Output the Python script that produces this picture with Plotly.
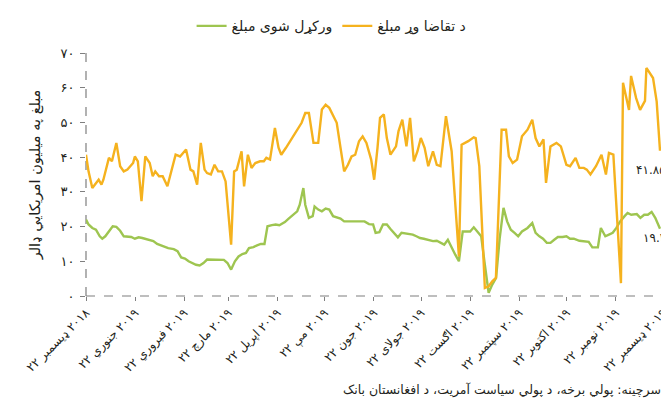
import plotly.graph_objects as go
import pandas as pd

START = "2018-12-22"

# Demand (orange): day offset from 22 Dec 2018, value in million USD
demand_days = [0, 1.6, 4.0, 6.3, 8.0, 9.8, 11.0, 14.5, 16.4, 19.2, 21.6, 23.9, 26.2, 29.8, 30.9,
               32.8, 35.1, 37.5, 40.3, 42.2, 43.8, 46.2, 48.5, 51.5, 53.9, 56.7, 59.5, 63.3, 66.1,
               67.9, 70.3, 72.6, 75.0, 76.6, 79.0, 81.3, 83.6, 86.0, 88.3, 91.8, 93.7, 95.4, 98.4,
               100.0, 102.4, 104.7, 107.1, 110.1, 112.5, 114.1, 116.4, 119.5, 121.8, 123.5, 126.5,
               129.8, 133.6, 136.4, 138.7, 141.0, 143.9, 146.9, 149.2, 151.6, 153.9, 156.3, 158.6,
               161.0, 163.3, 165.7, 168.0, 170.3, 172.7, 175.0, 177.4, 180.4, 182.3, 184.4, 186.0,
               188.4, 190.3, 192.6, 194.9, 196.1, 197.7, 200.1, 202.7, 205.0, 207.4, 209.7, 211.8,
               214.2, 216.5, 219.5, 221.9, 224.2, 227.7, 231.3, 235.9, 237.6, 241.8, 245.3, 246.5,
               248.8, 252.3, 254.7, 257.0, 259.3, 262.9, 265.7, 267.5, 269.9, 272.7, 275.8, 279.3,
               282.3, 284.4, 286.8, 289.4, 291.0, 293.8, 297.6, 300.4, 303.9, 306.2, 309.7, 312.1,
               314.9, 316.8, 319.1, 322.6, 326.1, 328.9, 330.8, 333.6, 338.4, 339.7, 343.5, 344.8,
               348.0, 350.5, 353.6, 354.5, 358.7, 361.0, 363.1]
demand_vals = [40.7, 35.9, 31.1, 32.6, 33.5, 32.1, 33.5, 39.8, 38.8, 44.1, 37.4, 35.9, 36.4, 38.3, 40.2,
               38.8, 27.3, 40.2, 38.3, 34.5, 35.9, 34.5, 34.5, 31.6, 35.9, 40.7, 40.2, 42.2, 36.4,
               35.9, 32.1, 44.1, 36.4, 35.4, 35.0, 37.8, 35.9, 35.9, 33.0, 14.8, 35.9, 36.4, 41.7,
               31.6, 40.7, 36.9, 38.3, 38.8, 38.8, 39.8, 39.3, 48.4, 42.7, 40.7, 42.7,
               45.1, 47.5, 49.9, 52.7, 52.7, 44.1, 44.1, 53.7, 55.1, 54.2, 51.8, 49.9,
               42.7, 35.9, 37.8, 40.2, 40.7, 44.6, 46.0, 44.1, 39.3, 33.5, 42.7, 51.3,
               52.3, 45.5, 40.7, 42.2, 43.1, 47.5, 50.8, 43.1, 51.3, 38.8, 41.7, 45.5,
               42.7, 37.4, 41.7, 37.8, 37.4, 51.8, 41.7, 11.4, 43.6, 44.6, 45.7, 45.5,
               37.4, 2.3, 2.8, 4.2, 5.2, 47.9, 47.9, 40.2, 38.3, 39.3, 46.0, 47.9,
               50.8, 45.5, 43.1, 45.1, 32.6, 43.1, 44.1, 43.1, 37.8, 37.4, 39.8, 36.9,
               36.9, 36.4, 35.0, 37.4, 40.7, 35.0, 41.2, 40.7, 3.7, 61.4, 53.6, 63.4,
               57.0, 53.6, 56.2, 65.7, 62.8, 56.0, 41.85]

# Sold (green)
sold_days = [0, 1.6, 4.0, 6.3, 8.7, 10.3, 12.2, 14.5, 16.9, 19.2, 21.6, 23.9, 26.2, 28.6, 30.9, 33.3,
             35.6, 39.1, 42.6, 45.0, 48.5, 52.0, 55.5, 57.9, 60.2, 62.6, 64.9, 67.2, 69.6, 71.9,
             74.3, 76.6, 80.1, 83.6, 87.2, 89.5, 91.8, 94.2, 96.5, 98.9, 101.2, 103.1, 105.9,
             108.2, 110.6, 112.9, 114.8, 117.6, 120.0, 122.3, 125.8, 128.2, 130.5, 133.6, 135.2,
             137.5, 138.7, 141.0, 143.4, 144.6, 146.9, 149.2, 151.6, 153.9, 156.3, 158.6, 161.0,
             163.3, 165.7, 168.0, 170.3, 172.7, 176.2, 179.0, 181.6, 183.2, 185.6, 187.9, 190.3,
             192.6, 194.9, 197.3, 199.6, 202.0, 204.3, 206.7, 209.0, 211.3, 213.7, 216.0, 219.5,
             221.9, 224.2, 226.6, 228.9, 231.3, 233.6, 235.9, 238.3, 240.6, 243.0, 245.3, 247.7,
             250.0, 252.3, 254.7, 257.0, 259.4, 261.7, 264.1, 266.4, 268.7, 271.1, 273.4, 275.8,
             279.3, 282.3, 284.4, 286.8, 289.1, 291.5, 293.8, 296.2, 298.5, 301.5, 303.9, 306.2,
             308.6, 312.1, 315.6, 318.0, 320.3, 323.8, 325.7, 328.5, 330.8, 333.2, 335.5, 337.9,
             340.7, 342.6, 344.9, 348.4, 350.7, 353.1, 355.4, 357.8, 360.1, 363.1]
sold_vals = [22.0, 20.6, 19.6, 19.1, 17.2, 16.5, 17.2, 18.6, 20.1, 19.9, 18.8, 17.2, 17.0, 17.0, 16.5, 16.9,
             16.7, 16.2, 15.8, 15.0, 14.3, 13.8, 13.5, 12.9, 11.1, 10.8, 10.0, 9.5, 9.0, 8.8,
             9.5, 10.5, 10.5, 10.5, 10.4, 9.5, 7.6, 10.0, 11.4, 12.1, 12.4, 13.8, 14.1,
             14.6, 15.0, 15.0, 20.1, 20.4, 20.6, 20.4, 21.3, 22.3, 23.2, 24.4, 26.3,
             31.1, 26.3, 22.5, 23.0, 25.8, 24.9, 24.4, 25.2, 24.9, 23.0, 22.7, 22.3,
             21.5, 21.5, 21.7, 21.5, 21.6, 21.5, 20.7, 20.6, 18.2, 18.4, 20.6, 20.6,
             19.3, 18.2, 16.9, 18.2, 18.1, 17.9, 17.7, 17.2, 16.7, 16.5, 16.2, 15.8,
             15.9, 15.3, 14.8, 16.2, 13.8, 11.9, 10.0, 18.6, 18.6, 18.6, 19.8, 18.6,
             17.2, 9.0, 0.9, 3.3, 5.2, 16.7, 25.4, 21.5, 19.1, 18.2, 17.2, 18.6,
             19.6, 21.0, 18.2, 17.2, 16.5, 15.3, 15.3, 16.2, 17.0, 17.0, 17.2, 16.5,
             16.5, 15.9, 15.8, 15.6, 14.0, 14.0, 19.6, 17.2, 17.7, 18.2, 19.6, 21.5,
             23.0, 23.9, 23.4, 23.6, 22.5, 23.4, 23.4, 24.2, 22.5, 19.4]

tick_dates = ["2018-12-22", "2019-01-22", "2019-02-22", "2019-03-22", "2019-04-22", "2019-05-22",
              "2019-06-22", "2019-07-22", "2019-08-22", "2019-09-22", "2019-10-22", "2019-11-22",
              "2019-12-22"]
tick_months = ["ډیسمبر", "جنوري", "فبروري", "مارچ", "اپریل", "مې", "جون", "جولای", "اګست",
               "سپتمبر", "اکتوبر", "نومبر", "ډیسمبر"]
tick_years = ["۲۰۱۸"] + ["۲۰۱۹"] * 12
y_ticks = [0, 10, 20, 30, 40, 50, 60, 70]
y_labels = ["۰", "۱۰", "۲۰", "۳۰", "۴۰", "۵۰", "۶۰", "۷۰"]

name_demand = "د تقاضا وړ مبلغ"
name_sold = "ورکړل شوی مبلغ"
y_title = "مبلغ په میلیون امریکایي ډالر"
source = "سرچینه: پولي برخه، د پولي سیاست آمریت، د افغانستان بانک"
end_demand_label = "۴۱.۸۵"
end_sold_label = "۱۹.۴"

LRM = "\u200e"

start = pd.Timestamp(START)
demand_x = start + pd.to_timedelta(demand_days, unit="D")
sold_x = start + pd.to_timedelta(sold_days, unit="D")

ORANGE = "#F5B21E"
GREEN = "#9EC550"
FONT = "DejaVu Sans"
AXIS = "#7f7f7f"

fig = go.Figure()
fig.add_trace(go.Scatter(x=sold_x, y=sold_vals, mode="lines", name=name_sold,
                         line=dict(color=GREEN, width=2.4)))
fig.add_trace(go.Scatter(x=demand_x, y=demand_vals, mode="lines", name=name_demand,
                         line=dict(color=ORANGE, width=2.4)))

# day, month and year laid out left to right as in the reference
tick_text = [f"۲۲{LRM} {m}{LRM} {y}" for m, y in zip(tick_months, tick_years)]

fig.update_layout(
    width=669, height=415,
    margin=dict(l=78, r=14, t=45, b=127, autoexpand=False),
    paper_bgcolor="white", plot_bgcolor="white",
    font=dict(family=FONT, size=12, color="#231F20"),
    showlegend=True,
    legend=dict(orientation="h", x=0.183, xanchor="left", y=1.11, yanchor="middle",
                font=dict(size=14), bgcolor="rgba(0,0,0,0)"),
    xaxis=dict(type="date", range=[tick_dates[0], tick_dates[-1]], tickvals=tick_dates,
               ticktext=tick_text, tickangle=-45, showgrid=False, zeroline=False,
               showline=False, ticks="outside", ticklen=4, tickcolor=AXIS,
               tickfont=dict(size=12), automargin=False),
    yaxis=dict(range=[0, 70], tickvals=y_ticks, ticktext=y_labels, showgrid=False,
               zeroline=False, showline=False, ticks="outside", ticklen=5,
               tickcolor=AXIS, tickfont=dict(size=13), automargin=False,
               ticklabelstandoff=3,
               title=dict(text=y_title, font=dict(size=14.5), standoff=16)),
    shapes=[
        dict(type="line", xref="paper", yref="paper", x0=0, x1=0, y0=0, y1=1,
             line=dict(color=AXIS, width=1.2, dash="dash"), layer="below"),
        dict(type="line", xref="paper", yref="paper", x0=0, x1=1, y0=0, y1=0,
             line=dict(color=AXIS, width=1.2, dash="dash"), layer="below"),
    ],
    annotations=[
        dict(x=1.0, y=36.3, xref="paper", yref="y", text=end_demand_label,
             showarrow=False, xanchor="right", xshift=5, font=dict(size=12)),
        dict(x=1.0, y=16.7, xref="paper", yref="y", text=end_sold_label,
             showarrow=False, xanchor="right", xshift=5, font=dict(size=12)),
        dict(x=1.0, y=-0.387, xref="paper", yref="paper", text=source,
             showarrow=False, xanchor="right", yanchor="middle", font=dict(size=12.5)),
    ],
)

fig.write_html("out.html")
